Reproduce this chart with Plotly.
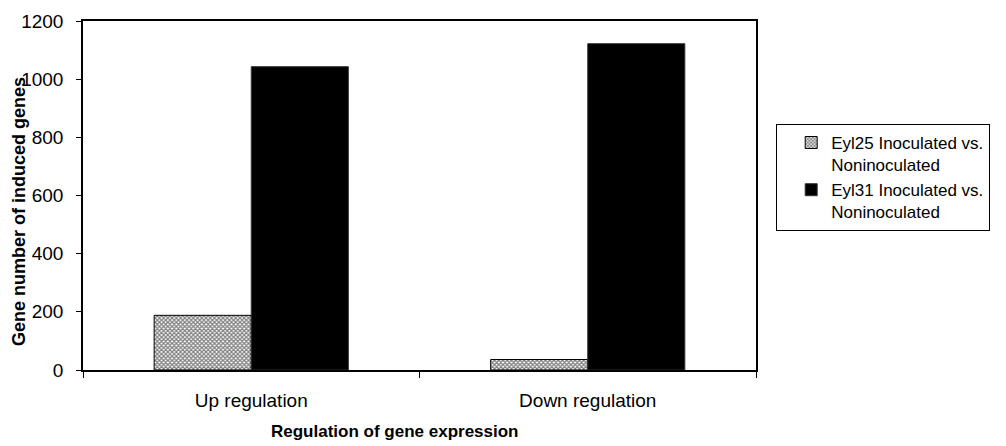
import plotly.graph_objects as go

categories = ["Up regulation", "Down regulation"]
eyl25 = [188, 36]
eyl31 = [1043, 1122]
series_names = ["Eyl25 Inoculated vs.<br>Noninoculated", "Eyl31 Inoculated vs.<br>Noninoculated"]
y_ticks = [0, 200, 400, 600, 800, 1000, 1200]

FONT = "Liberation Sans, Arial, sans-serif"

fig = go.Figure()
fig.add_trace(go.Bar(
    x=categories, y=eyl25, name=series_names[0],
    marker=dict(color="white", line=dict(color="black", width=1),
                pattern=dict(shape="x", size=3, solidity=0.65, fgcolor="black", bgcolor="white")),
))
fig.add_trace(go.Bar(
    x=categories, y=eyl31, name=series_names[1],
    marker=dict(color="black", line=dict(color="#333333", width=1)),
))

fig.update_layout(
    width=1006, height=446,
    margin=dict(l=83, r=250, t=21, b=76),
    paper_bgcolor="white", plot_bgcolor="white",
    barmode="group", bargap=0.423, bargroupgap=0,
    font=dict(family=FONT, size=19, color="black"),
    legend=dict(
        x=1.03, xanchor="left", y=0.705, yanchor="top",
        bordercolor="black", borderwidth=1,
        font=dict(family=FONT, size=17, color="black"),
        valign="top", tracegroupgap=3, indentation=14,
        entrywidth=200, entrywidthmode="pixels",
    ),
    showlegend=True,
    annotations=[
        dict(text="<b>Regulation of gene expression</b>", xref="paper", yref="paper",
             x=(395 - 83) / 673, y=(370 - 431) / 349, xanchor="center", yanchor="middle",
             showarrow=False, font=dict(family=FONT, size=17, color="black")),
        dict(text="<b>Gene number of induced genes</b>", xref="paper", yref="paper",
             x=(19 - 83) / 673, y=(370 - 212) / 349, xanchor="center", yanchor="middle",
             textangle=-90, showarrow=False, font=dict(family=FONT, size=18, color="black")),
    ],
)
fig.update_xaxes(
    showline=True, linecolor="black", linewidth=1.5, mirror=True,
    ticks="outside", tickson="boundaries", ticklen=6, tickcolor="black",
    tickfont=dict(size=19), ticklabelstandoff=12,
)
fig.update_yaxes(
    range=[0, 1200], tickvals=y_ticks, showline=True, linecolor="black", linewidth=1.5,
    mirror=True, ticks="outside", ticklen=5, tickcolor="black", showgrid=False, zeroline=False,
    tickfont=dict(size=19), ticklabelstandoff=9,
)

fig.write_html("out.html")
